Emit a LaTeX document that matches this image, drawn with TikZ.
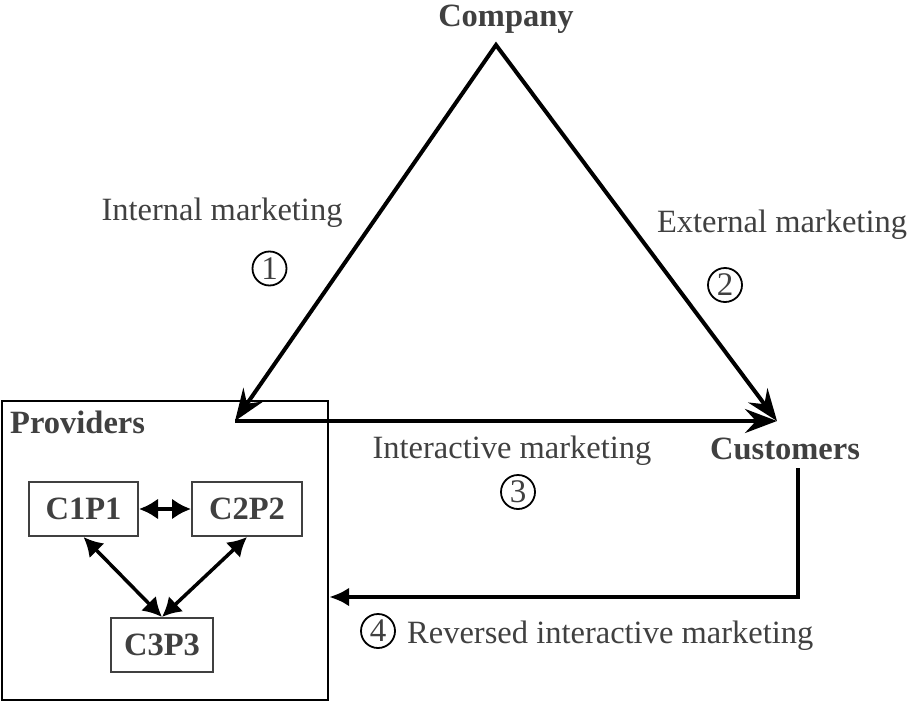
\documentclass[tikz,border=0pt]{standalone}
\usepackage{fontspec}
\setmainfont{Liberation Serif}
\usetikzlibrary{arrows.meta}
\definecolor{txt}{HTML}{404040}
\begin{document}
\begin{tikzpicture}[x=1pt,y=-1pt,
 lab/.style={text=txt,font=\fontsize{32.5}{36}\selectfont,inner sep=0pt},
 blab/.style={text=txt,font=\fontsize{32.5}{36}\selectfont\bfseries,inner sep=0pt},
 cnum/.style={circle,draw=black,line width=1.8pt,minimum size=34pt,inner sep=0pt,text=txt,font=\fontsize{33}{34}\selectfont},
 cbox/.style={draw=txt,line width=2pt,minimum height=54pt,text=txt,font=\fontsize{32.5}{36}\selectfont\bfseries,inner sep=0pt},
 mainarr/.style={line width=4pt,-{Stealth[length=32pt,width=24pt,inset=11pt]}},
 bothmain/.style={line width=4pt,line join=miter,{Stealth[length=32pt,width=24pt,inset=11pt]}-{Stealth[length=32pt,width=24pt,inset=11pt]}},
 revarr/.style={line width=4pt,-{Latex[length=20pt,width=19pt]}},
 innerarr/.style={line width=3.5pt,{Latex[length=19pt,width=21pt]}-{Latex[length=19pt,width=21pt]}}
]
\useasboundingbox (0,0) rectangle (913,704);
% providers box
\node[draw=black,line width=2.4pt,minimum width=326pt,minimum height=299pt,inner sep=0pt] (prov) at (165,550.5) {};
\node[blab,anchor=base west] (provlab) at (10,433) {Providers};
% labels
\node[blab,anchor=base] (company) at (506,27) {Company};
\node[blab,anchor=base] (cust) at (785,459) {Customers};
\node[lab,anchor=base] (intl) at (222,220) {Internal marketing};
\node[lab,anchor=base] (extl) at (782,232) {External marketing};
\node[lab,anchor=base] (inter) at (512,458) {Interactive marketing};
\node[lab,anchor=base west] (rev) at (407,643) {Reversed interactive marketing};
\node[cnum] (n1) at (269.5,268.5) {1};
\node[cnum] (n2) at (725,285) {2};
\node[cnum] (n3) at (518,492) {3};
\node[cnum] (n4) at (378,631) {4};
% triangle
\coordinate (apex) at (496,45);
\coordinate (pl) at (235,421);
\coordinate (cr) at (777,421);
\draw[bothmain] (pl) -- (apex) -- (cr);
\draw[mainarr] (pl) -- (cr);
% reversed
\coordinate (r4) at (798,468);
\coordinate (r4b) at (798,597);
\draw[revarr,line join=miter] (r4) -- (r4b) -- (prov.east |- r4b);
% inner boxes
\node[cbox,minimum width=109pt] (c1) at (83.5,509) {C1P1};
\node[cbox,minimum width=110pt] (c2) at (247,509) {C2P2};
\node[cbox,minimum width=102pt] (c3) at (162,645) {C3P3};
\draw[innerarr] (c1) -- (c2);
\draw[innerarr] (c1.south) -- (c3.north);
\draw[innerarr] (c2.south) -- (c3.north);
\end{tikzpicture}
\end{document}
